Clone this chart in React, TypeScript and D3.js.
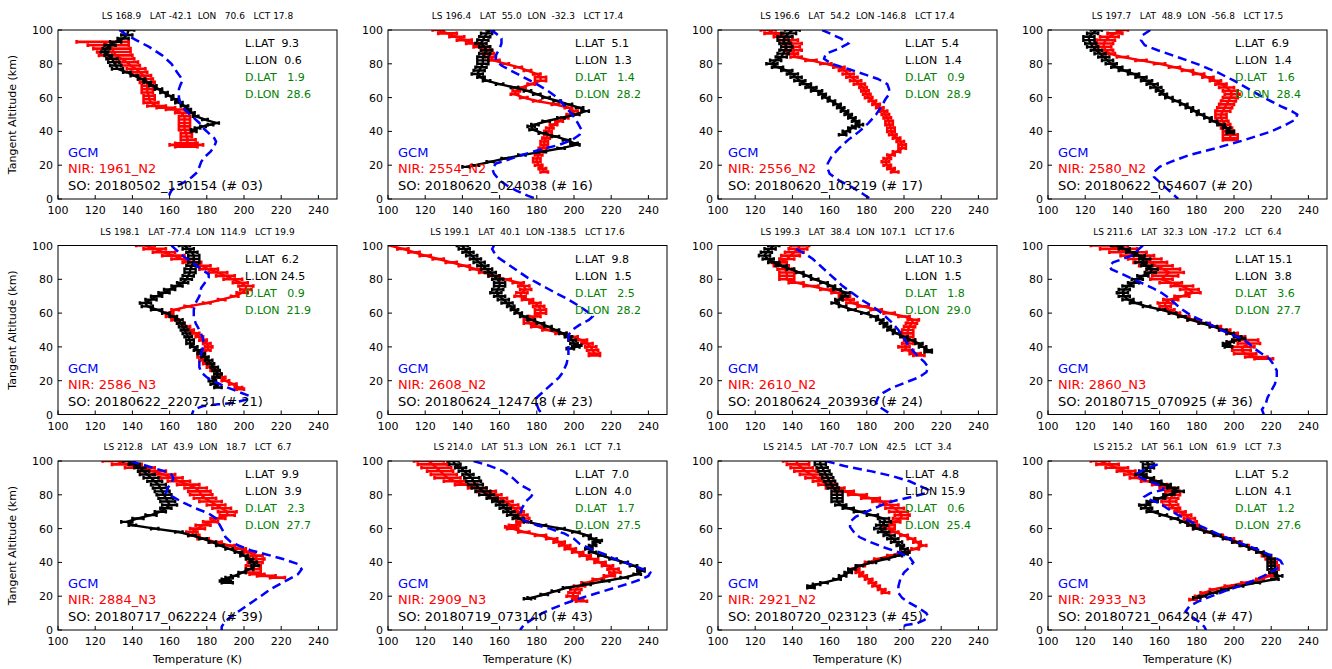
import React from 'react';
import * as d3 from 'd3';

type P3 = [number, number, number]; // [altitude km, temperature K, error K]
type P2 = [number, number]; // [altitude km, temperature K]

// ---------- Panel #03 ----------
const so03: P3[] = [[100,138,3],[97,137,3],[95,135,3],[93,131,3],[91,128,3],[89,126,2],[87,125,2],[85,127,2],[83,129,3],[81,130,3],[79,131,3],[77,132,3],[75,137,2],[73,141,2],[71,145,2],[69,148,2],[67,151,2],[65,154,2],[63,157,2],[61,160,2],[59,163,2],[57,165,2],[55,168,2],[53,170,1.5],[51,172,1.5],[49,174,1.5],[47,179,1.5],[45,185,1.5],[44,182,1.5],[43,178,1.5],[42,175,1.5],[41,173,1.5],[40,173,1.5]];
const nir03: P3[] = [[93,124,14],[91,127,11],[89,129,10],[87,130,9],[85,131,9],[83,134,7],[81,137,6],[79,139,5],[77,142,5],[75,144,4],[73,146,4],[71,147,4],[69,148,4],[67,148,3],[65,148,3],[63,148,3],[61,149,3],[59,149,3],[57,150,4],[55,153,5],[54,158,5],[53,163,5],[51,166,3],[49,168,3],[47,168,3],[45,168,3],[43,168,3],[41,168,3],[39,169,3],[37,169,3],[35,170,4],[33,169,6],[32,169,9],[31,169,6]];
const gcm03: P2[] = [[100,133],[97,137],[94,142],[90,149],[85,156],[80,161],[75,164],[72,166],[70,167],[68,166],[65,165],[60,165],[56,166],[52,169],[48,173],[45,176],[42,178],[39,181],[36,184],[34,185],[31,184],[28,182],[25,179],[22,177],[19,176],[16,175],[13,172],[10,168],[8,164],[5,161],[3,160],[0,160]];

// ---------- Panel #16 ----------
const so16: P3[] = [[100,155,2],[98,153,3],[96,152,3],[94,151,3],[92,150,3],[90,152,3],[88,153,3],[86,152,3],[84,151,3],[82,151,3],[80,151,3],[78,150,3],[76,149,3],[74,148,3],[72,150,2],[70,153,2],[68,160,2],[66,168,2],[64,175,2],[62,180,2],[60,185,2],[58,191,2],[56,197,2],[54,203,2],[52,206,2],[50,201,2],[48,193,2],[46,185,2],[44,179,2],[43,177,2],[41,178,2],[39,183,2],[37,190,2],[35,196,2],[33,200,2],[32,201,2],[30,193,2],[28,183,2],[26,172,2],[24,163,2],[22,155,2],[20,147,2],[19,142,2]];
const nir16: P3[] = [[100,127,3],[98,132,5],[96,137,4],[94,141,4],[92,146,4],[90,150,4],[88,153,3],[86,154,3],[84,155,3],[82,157,3],[80,163,2],[78,170,2],[76,175,2],[74,180,2],[72,182,3],[70,182,3],[68,177,2],[66,172,2],[64,169,2],[62,168,2],[60,173,2],[58,180,2],[56,190,2],[54,197,2],[52,200,2],[50,198,2],[48,195,2],[46,192,2],[44,189,2],[42,187,2],[40,186,2],[38,186,2],[36,185,2],[34,184,2],[32,184,2],[30,183,2],[28,182,2],[26,181,2],[24,180,2],[22,180,2],[20,181,2],[18,183,2],[16,184,2]];
const gcm16: P2[] = [[100,155],[98,158],[95,161],[92,161],[89,160],[85,158],[82,158],[79,161],[76,166],[72,173],[68,180],[64,186],[60,191],[55,195],[50,199],[45,202],[41,204],[38,203],[35,199],[32,192],[29,181],[26,172],[23,164],[21,158],[18,156],[15,157],[11,160],[8,164],[5,169],[2,175],[0,180]];

// ---------- Panel #17 ----------
const so17: P3[] = [[100,140,4],[98,138,4],[96,136,4],[94,135,3],[92,136,3],[90,137,3],[88,136,3],[86,135,3],[84,134,3],[82,131,3],[80,129,3],[78,132,3],[76,137,3],[74,140,3],[72,142,3],[70,144,3],[68,147,3],[66,150,3],[64,153,3],[62,156,2],[60,158,2],[58,161,2],[56,164,2],[54,166,2],[52,168,2],[50,170,2],[48,172,2],[46,174,2],[44,176,2],[43,174,2],[42,172,2],[40,169,2],[38,167,2]];
const nir17: P3[] = [[100,127,4],[98,130,5],[96,135,5],[94,138,5],[92,140,5],[90,140,4],[88,141,4],[86,140,3],[84,142,3],[82,150,3],[80,158,3],[78,165,3],[76,168,3],[74,170,3],[72,172,3],[70,174,3],[68,176,3],[66,178,2],[64,179,2],[62,180,2],[60,181,2],[58,183,2],[56,185,2],[54,187,2],[52,189,2],[50,190,2],[48,191,2],[46,192,2],[44,192,2],[42,193,2],[40,193,2],[38,194,2],[36,196,2],[34,198,2],[32,199,2],[30,199,2],[28,196,2],[26,193,2],[24,191,2],[22,190,2],[20,191,2],[18,193,2],[16,195,2]];
const gcm17: P2[] = [[100,156],[97,162],[95,166],[92,170],[89,165],[86,158],[83,157],[80,161],[77,170],[74,178],[71,186],[68,191],[65,192],[62,192],[59,190],[55,188],[50,185],[45,181],[40,176],[35,170],[30,165],[25,161],[21,159],[18,159],[15,160],[11,165],[7,172],[3,178],[0,182]];

// ---------- Panel #20 ----------
const so20: P3[] = [[100,126,3],[98,124,3],[96,122,3],[94,122,3],[92,123,3],[90,124,3],[88,126,3],[86,128,3],[84,130,3],[82,132,3],[80,134,3],[78,137,3],[76,141,3],[74,146,3],[72,150,3],[70,153,3],[68,156,3],[66,158,3],[64,160,2],[62,162,2],[60,165,2],[58,169,2],[56,173,2],[54,176,2],[52,179,2],[50,182,2],[48,186,2],[46,189,2],[44,193,2],[42,196,2],[40,198,2],[39,198,2]];
const nir20: P3[] = [[100,140,3],[98,136,4],[96,133,5],[94,131,5],[92,130,5],[90,130,4],[88,131,4],[86,133,3],[84,140,3],[82,150,3],[80,160,3],[78,168,3],[76,175,3],[74,181,3],[72,186,3],[70,190,3],[68,193,3],[66,196,4],[64,198,4],[62,199,4],[60,198,4],[58,197,4],[56,196,4],[54,195,4],[52,194,4],[50,193,3],[48,193,3],[46,194,3],[44,195,3],[42,196,3],[40,197,3],[38,198,4],[36,198,4],[35,198,4]];
const gcm20: P2[] = [[100,155],[97,151],[94,150],[91,152],[88,159],[85,167],[80,180],[75,191],[70,200],[65,208],[60,216],[55,225],[52,231],[50,234],[47,233],[44,228],[40,220],[35,206],[30,190],[26,176],[22,166],[19,160],[16,157],[13,157],[10,160],[6,164],[3,167],[0,170]];

// ---------- Panel #21 ----------
const so21: P3[] = [[100,168,3],[98,170,3],[96,172,3],[94,173,3],[92,173,3],[90,173,3],[88,172,3],[86,171,3],[84,171,3],[82,170,3],[80,169,3],[78,167,3],[76,164,3],[74,160,3],[72,157,3],[70,153,3],[68,150,3],[66,147,3],[64,148,3],[62,153,3],[60,158,2],[58,162,2],[56,165,2],[54,166,2],[52,167,2],[50,168,2],[48,169,2],[46,170,2],[44,171,2],[42,171,2],[40,173,2],[38,175,2],[36,177,2],[34,179,2],[32,181,2],[30,182,2],[28,184,2],[26,185,2],[24,186,2],[22,185,2],[20,183,2],[18,184,2],[16,186,2]];
const nir21: P3[] = [[100,147,5],[98,152,6],[96,157,6],[94,162,6],[92,167,6],[90,172,5],[88,177,5],[86,181,5],[84,186,5],[82,190,5],[80,194,5],[78,198,4],[76,201,4],[74,201,3],[72,199,3],[70,195,2],[68,188,2],[66,180,2],[64,170,2],[62,163,2],[60,160,2],[58,160,2],[56,163,2],[54,166,2],[52,169,2],[50,171,2],[48,174,2],[46,176,2],[44,178,2],[42,180,2],[40,181,2],[38,180,2],[36,177,2],[34,177,2],[32,178,2],[30,180,2],[28,182,2],[26,184,2],[24,186,2],[22,188,2],[20,190,2],[18,194,2],[16,197,2],[15,198,2]];
const gcm21: P2[] = [[100,161],[97,164],[94,167],[90,172],[86,177],[83,181],[81,181],[78,179],[75,177],[70,176],[66,174],[62,173],[58,173],[54,174],[50,176],[45,178],[40,178],[36,177],[32,176],[28,176],[25,177],[22,180],[19,185],[16,191],[13,198],[11,203],[9,202],[7,195],[6,186],[5,178],[3,173],[0,172]];

// ---------- Panel #23 ----------
const so23: P3[] = [[100,140,3],[98,141,3],[96,143,3],[94,145,3],[92,147,3],[90,149,3],[88,151,3],[86,153,3],[84,155,3],[82,157,3],[80,159,3],[78,160,3],[76,160,3],[74,159,3],[72,158,3],[70,160,3],[68,162,3],[66,164,3],[64,166,2],[62,168,2],[60,170,2],[58,173,2],[56,177,2],[54,182,2],[52,186,2],[50,190,2],[48,194,2],[46,197,2],[44,199,2],[42,200,2],[41,202,2],[40,201,2],[39,198,2]];
const nir23: P3[] = [[100,101,3],[98,108,3],[96,114,3],[94,120,3],[92,127,3],[90,134,3],[88,141,3],[86,147,3],[84,152,3],[82,157,3],[80,163,3],[78,170,3],[76,173,3],[74,174,3],[72,172,3],[70,171,3],[68,175,3],[66,179,3],[64,181,3],[62,182,3],[60,182,3],[58,179,3],[56,176,3],[54,176,3],[52,180,3],[50,186,3],[48,193,3],[46,199,3],[44,204,3],[42,207,3],[40,209,3],[38,210,3],[36,211,3],[35,211,3]];
const gcm23: P2[] = [[100,157],[98,156],[96,157],[93,159],[90,163],[87,167],[84,171],[81,175],[78,180],[75,185],[72,190],[68,197],[64,203],[61,207],[58,210],[56,208],[53,203],[50,199],[47,197],[43,197],[39,197],[35,197],[30,196],[25,194],[22,192],[18,188],[14,184],[10,180],[6,180],[3,181],[0,183]];

// ---------- Panel #24 ----------
const so24: P3[] = [[100,130,3],[98,128,3],[96,126,3],[94,125,3],[92,127,3],[90,130,3],[88,134,3],[86,139,2],[84,144,2],[82,148,2],[80,152,2],[78,157,2],[76,161,2],[74,164,2],[72,169,2],[70,168,2],[68,165,2],[66,163,2],[64,167,2],[62,172,2],[60,179,2],[58,184,2],[56,187,2],[54,189,2],[52,191,2],[50,193,2],[48,196,2],[46,200,2],[44,204,2],[42,208,2],[40,210,2],[38,213,2],[37,213,2]];
const nir24: P3[] = [[100,144,5],[98,143,5],[96,141,5],[94,139,5],[92,137,4],[90,133,4],[88,134,4],[86,136,4],[84,137,4],[82,137,4],[80,137,4],[78,142,4],[76,150,4],[74,158,3],[72,164,3],[70,168,3],[68,170,3],[66,172,3],[64,178,3],[62,185,3],[60,192,3],[58,200,3],[56,205,3],[54,204,3],[52,203,3],[50,202,3],[48,202,3],[46,202,3],[44,203,3],[42,202,3],[40,200,3],[38,202,3],[36,206,3],[35,208,3]];
const gcm24: P2[] = [[98,142],[95,147],[92,151],[88,155],[84,159],[80,163],[76,167],[72,172],[68,177],[64,183],[60,188],[55,193],[50,197],[45,200],[40,203],[35,207],[31,211],[28,213],[25,212],[22,208],[19,201],[16,194],[13,189],[10,186],[7,185],[5,186],[3,189],[0,193]];

// ---------- Panel #36 ----------
const so36: P3[] = [[100,137,3],[98,141,3],[96,145,3],[94,149,3],[92,152,3],[90,150,3],[88,153,3],[86,156,3],[84,155,3],[82,151,3],[80,148,3],[78,146,3],[76,143,3],[74,141,3],[72,140,3],[70,141,3],[68,143,3],[66,147,3],[64,153,2],[62,161,2],[60,167,2],[58,172,2],[56,177,2],[54,183,2],[52,189,2],[50,194,2],[48,198,2],[46,202,2],[45,204,2],[44,201,2],[43,198,2],[42,196,2],[41,196,2],[40,197,2]];
const nir36: P3[] = [[100,133,10],[98,138,10],[96,143,10],[94,148,9],[92,152,9],[90,155,9],[88,158,9],[86,162,9],[84,165,8],[82,163,7],[80,161,6],[78,166,6],[76,172,6],[74,176,5],[72,178,4],[70,172,4],[68,166,4],[66,163,4],[64,163,3],[62,165,3],[60,168,3],[58,173,3],[56,178,3],[54,184,3],[52,190,3],[50,195,3],[48,199,3],[46,203,3],[44,207,6],[42,208,6],[40,205,6],[38,204,5],[36,206,6],[34,212,6],[33,216,5]];
const gcm36: P2[] = [[100,151],[98,149],[96,147],[94,145],[92,140],[90,135],[88,133],[86,134],[84,138],[81,144],[78,150],[75,156],[72,161],[69,165],[66,168],[63,171],[60,175],[57,180],[54,186],[51,191],[48,197],[45,204],[42,208],[39,211],[36,215],[33,219],[30,221],[26,223],[22,223],[18,222],[14,220],[10,218],[6,217],[3,215],[0,216]];

// ---------- Panel #39 ----------
const so39: P3[] = [[100,138,3],[98,141,3],[96,144,3],[94,146,3],[92,148,4],[90,150,4],[88,152,4],[86,154,4],[84,155,4],[82,156,4],[80,157,4],[78,158,4],[76,159,4],[74,160,4],[72,158,3],[70,155,3],[68,150,3],[66,143,3],[64,137,3],[62,140,2],[60,152,2],[58,165,2],[56,172,2],[54,178,2],[52,183,2],[50,187,2],[48,192,2],[46,197,2],[44,200,2],[42,203,2],[40,205,2],[38,206,2],[36,203,2],[34,199,2],[32,195,2],[31,192,2],[30,190,2],[29,190,3],[28,191,3]];
const nir39: P3[] = [[100,132,8],[98,137,8],[96,144,8],[94,151,7],[92,157,6],[90,161,6],[88,165,6],[86,170,6],[84,174,6],[82,176,6],[80,177,6],[78,179,6],[76,182,6],[74,185,5],[72,188,5],[70,191,5],[68,191,4],[66,186,4],[64,182,4],[62,178,4],[60,175,4],[58,172,3],[56,173,3],[54,178,3],[52,185,3],[50,192,3],[48,198,3],[46,203,3],[44,206,4],[42,207,4],[40,206,4],[38,205,4],[36,205,4],[34,205,4],[33,207,4],[32,212,5],[31,218,4]];
const gcm39: P2[] = [[100,139],[98,145],[96,151],[94,157],[92,161],[90,162],[87,161],[84,159],[81,158],[78,163],[75,168],[72,174],[69,181],[66,185],[62,187],[58,189],[55,190],[52,193],[50,197],[47,204],[45,211],[42,221],[39,229],[36,231],[33,229],[30,224],[27,219],[24,214],[20,209],[17,205],[14,201],[11,197],[8,193],[5,190],[2,188],[0,188]];

// ---------- Panel #43 ----------
const so43: P3[] = [[100,135,3],[98,136,3],[96,139,3],[94,141,3],[92,143,3],[90,145,4],[88,146,4],[86,147,4],[84,149,4],[82,151,4],[80,153,4],[78,156,3],[76,159,3],[74,161,3],[72,163,3],[70,165,3],[68,167,3],[66,170,3],[64,175,2],[62,183,2],[60,193,2],[58,201,2],[56,207,2],[54,210,2],[53,213,2],[52,212,2],[50,210,2],[48,208,2],[46,210,2],[44,215,2],[42,221,2],[40,227,2],[38,232,2],[36,236,2],[35,236,2],[33,234,2],[31,227,2],[29,217,2],[27,207,2],[25,196,2],[23,190,2],[21,184,2],[19,177,2],[18.5,175,2]];
const nir43: P3[] = [[100,122,8],[98,124,8],[96,126,8],[94,128,7],[92,130,7],[90,132,7],[88,136,6],[86,142,6],[84,148,5],[82,153,5],[80,157,4],[78,160,4],[76,163,4],[74,166,4],[72,168,3],[70,170,3],[68,172,3],[66,173,3],[64,172,3],[62,168,3],[61,166,3],[60,167,3],[58,173,3],[56,182,3],[54,188,3],[52,192,3],[50,195,3],[48,198,3],[46,202,3],[44,206,3],[42,210,3],[40,214,3],[38,218,3],[36,221,3],[34,222,3],[32,219,3],[30,213,3],[28,207,3],[26,203,3],[24,201,3],[22,200,3],[20,199,3],[18,202,3],[17,204,3]];
const gcm43: P2[] = [[100,146],[97,155],[94,162],[90,167],[86,171],[83,176],[81,178],[79,177],[76,174],[72,172],[68,171],[65,173],[62,180],[60,187],[57,195],[54,200],[51,203],[48,209],[45,216],[42,222],[39,230],[36,237],[34,241],[32,240],[30,236],[28,231],[25,222],[22,213],[19,204],[16,196],[13,189],[10,183],[6,177],[3,173],[0,171]];

// ---------- Panel #45 ----------
const so45: P3[] = [[100,155,3],[98,155,3],[96,156,3],[94,157,3],[92,158,3],[90,159,3],[88,160,3],[86,161,3],[84,162,3],[82,164,3],[80,164,3],[78,164,3],[76,164,3],[74,166,3],[72,170,3],[70,176,3],[68,183,3],[66,189,3],[64,190,3],[62,188,3],[60,187,3],[58,189,3],[56,192,3],[54,194,3],[52,196,3],[50,198,2],[48,200,2],[46,201,2],[45,200,2],[44,197,2],[42,190,2],[40,183,2],[38,176,2],[36,172,2],[34,170,2],[32,167,2],[30,164,2],[28,157,2],[27,153,2],[26,150,2],[25,150,2]];
const nir45: P3[] = [[100,142,7],[98,143,6],[96,145,6],[94,147,6],[92,150,6],[90,153,6],[88,156,5],[86,159,5],[84,163,5],[82,168,5],[80,175,5],[78,182,5],[76,188,5],[74,192,5],[72,195,5],[70,197,5],[68,199,4],[66,198,4],[64,195,3],[62,192,3],[60,192,3],[58,195,2],[56,200,2],[54,204,2],[52,207,2],[50,210,2],[48,206,2],[46,200,2],[44,193,2],[42,186,2],[40,181,2],[38,177,2],[36,174,2],[34,176,2],[32,178,2],[30,181,2],[28,183,2],[26,185,2],[24,188,2],[22,190,2]];
const gcm45: P2[] = [[100,158],[97,168],[94,182],[91,194],[88,203],[85,209],[83,213],[81,212],[79,205],[77,197],[75,190],[72,184],[70,180],[67,174],[64,171],[61,171],[58,173],[55,176],[52,182],[49,189],[46,197],[43,203],[40,205],[37,203],[34,200],[30,198],[26,197],[22,197],[19,199],[16,203],[13,208],[10,212],[8,213],[6,211],[4,207],[3,201],[1,198],[0,198]];

// ---------- Panel #47 ----------
const so47: P3[] = [[100,153,3],[98,154,3],[96,154,3],[94,152,3],[92,150,3],[90,154,3],[88,158,3],[86,163,3],[84,167,3],[82,170,3],[80,165,3],[78,160,3],[76,156,3],[74,152,3],[72,153,3],[70,156,3],[68,162,2],[66,168,2],[64,173,2],[62,177,2],[60,180,2],[58,186,2],[56,191,2],[54,196,2],[52,201,2],[50,205,2],[48,210,2],[46,214,2],[44,218,2],[42,220,2],[40,220,2],[38,220,2],[36,220,2],[34,221,2],[32,224,2],[30,222,2],[28,212,2],[26,203,2],[24,195,2],[22,189,2],[20,183,2],[19,180,2]];
const nir47: P3[] = [[100,128,5],[98,132,6],[96,137,6],[94,142,5],[92,146,5],[90,148,4],[88,154,4],[86,160,4],[84,164,4],[82,167,4],[80,167,4],[78,166,4],[76,165,4],[74,166,4],[72,168,3],[70,171,3],[68,174,3],[66,176,3],[64,177,3],[62,178,3],[60,181,3],[58,186,2],[56,192,2],[54,198,2],[52,202,2],[50,206,2],[48,210,2],[46,214,2],[44,217,2],[42,219,2],[40,221,2],[38,222,2],[36,222,2],[34,221,2],[32,219,2],[30,214,2],[28,206,2],[26,197,2],[24,189,2],[22,184,2],[20,181,2],[18,178,2]];
const gcm47: P2[] = [[98,159],[96,154],[94,150],[92,147],[90,150],[88,154],[85,162],[83,162],[81,155],[79,152],[77,155],[75,160],[72,164],[68,170],[64,177],[60,185],[56,193],[52,202],[48,212],[44,220],[41,225],[39,226],[37,224],[35,221],[32,216],[29,210],[26,203],[23,195],[20,188],[17,181],[14,176],[11,174],[8,177],[5,181],[2,184],[0,185]];

// ---------- Labels ----------
const lsValues = ['168.9','196.4','196.6','197.7','198.1','199.1','199.3','211.6','212.8','214.0','214.5','215.2'];
const latValues = ['-42.1','55.0','54.2','48.9','-77.4','40.1','38.4','32.3','43.9','51.3','-70.7','56.1'];
const lonValues = ['70.6','-32.3','-146.8','-56.8','114.9','-138.5','107.1','-17.2','18.7','26.1','42.5','61.9'];
const lctValues = ['17.8','17.4','17.4','17.5','19.9','17.6','17.6','6.4','6.7','7.1','3.4','7.3'];
const lLatValues = ['9.3','5.1','5.4','6.9','6.2','9.8','10.3','15.1','9.9','7.0','4.8','5.2'];
const lLonValues = ['0.6','1.3','1.4','1.4','24.5','1.5','1.5','3.8','3.9','4.0','15.9','4.1'];
const dLatValues = ['1.9','1.4','0.9','1.6','0.9','2.5','1.8','3.6','2.3','1.7','0.6','1.2'];
const dLonValues = ['28.6','28.2','28.9','28.4','21.9','28.2','29.0','27.7','27.7','27.5','25.4','27.6'];
const nirLabels = ['1961_N2','2554_N2','2556_N2','2580_N2','2586_N3','2608_N2','2610_N2','2860_N3','2884_N3','2909_N3','2921_N2','2933_N3'];
const soLabels = ['20180502_130154 (# 03)','20180620_024038 (# 16)','20180620_103219 (# 17)','20180622_054607 (# 20)','20180622_220731 (# 21)','20180624_124748 (# 23)','20180624_203936 (# 24)','20180715_070925 (# 36)','20180717_062224 (# 39)','20180719_073140 (# 43)','20180720_023123 (# 45)','20180721_064204 (# 47)'];

const xTicks = [100,120,140,160,180,200,220,240];
const yTicks = [0,20,40,60,80,100];

const soSeries = [so03,so16,so17,so20,so21,so23,so24,so36,so39,so43,so45,so47];
const nirSeries = [nir03,nir16,nir17,nir20,nir21,nir23,nir24,nir36,nir39,nir43,nir45,nir47];
const gcmSeries = [gcm03,gcm16,gcm17,gcm20,gcm21,gcm23,gcm24,gcm36,gcm39,gcm43,gcm45,gcm47];

const FONT = 'DejaVu Sans, sans-serif';
const PW = 279;
const PH = 169;
const LEFT0 = 58;
const COLSTEP = 330;
const TOP0 = 30;
const ROWSTEP = 215.5;

const NB = '\u00A0';
const pad = (s: string, n: number) => s.padStart(n, ' ');
const keepSpaces = (s: string) => s.replace(/ /g, NB);

export default function App() {
  const x = d3.scaleLinear().domain([100, 250]).range([0, PW]);
  const y = d3.scaleLinear().domain([0, 100]).range([PH, 0]);
  const line3 = d3.line<P3>().x(d => x(d[1])).y(d => y(d[0]));
  const line2 = d3.line<P2>().x(d => x(d[1])).y(d => y(d[0]));

  const errPath = (data: P3[]) => {
    const p = d3.path();
    data.forEach(([a, t, e]) => {
      const yy = y(a);
      const x1 = x(t - e);
      const x2 = x(t + e);
      p.moveTo(x1, yy);
      p.lineTo(x2, yy);
      p.moveTo(x1, yy - 1.8);
      p.lineTo(x1, yy + 1.8);
      p.moveTo(x2, yy - 1.8);
      p.lineTo(x2, yy + 1.8);
    });
    return p.toString();
  };

  const panels = soSeries.map((so, i) => {
    const col = i % 4;
    const row = Math.floor(i / 4);
    const left = LEFT0 + col * COLSTEP;
    const top = TOP0 + row * ROWSTEP;
    const title = keepSpaces(`LS ${lsValues[i]}   LAT ${pad(latValues[i], 5)}  LON ${pad(lonValues[i], 6)}   LCT ${pad(lctValues[i], 4)}`);
    const clipId = `clip${i}`;
    return (
      <g key={i} transform={`translate(${left},${top})`}>
        <defs>
          <clipPath id={clipId}>
            <rect x={0} y={0} width={PW} height={PH} />
          </clipPath>
        </defs>
        <text x={PW / 2} y={-11} textAnchor="middle" fontSize={9} fontFamily={FONT}>{title}</text>
        <g clipPath={`url(#${clipId})`}>
          <path d={errPath(nirSeries[i])} stroke="#ff0000" strokeWidth={2.6} fill="none" />
          <path d={line3(nirSeries[i]) || ''} stroke="#ff0000" strokeWidth={2.4} fill="none" />
          <path d={errPath(so)} stroke="#000000" strokeWidth={2.4} fill="none" />
          <path d={line3(so) || ''} stroke="#000000" strokeWidth={2.4} fill="none" />
          <path d={line2(gcmSeries[i]) || ''} stroke="#0000ff" strokeWidth={2.5} fill="none" strokeDasharray="9,5" />
        </g>
        <rect x={0} y={0} width={PW} height={PH} fill="none" stroke="#000" strokeWidth={1} />
        {xTicks.map(t => (
          <g key={`x${t}`}>
            <line x1={x(t)} x2={x(t)} y1={PH} y2={PH - 4} stroke="#000" strokeWidth={1} />
            <text x={x(t)} y={PH + 15} textAnchor="middle" fontSize={11} fontFamily={FONT}>{t}</text>
          </g>
        ))}
        {yTicks.map(t => (
          <g key={`y${t}`}>
            <line x1={0} x2={4} y1={y(t)} y2={y(t)} stroke="#000" strokeWidth={1} />
            <text x={-5} y={y(t) + 4} textAnchor="end" fontSize={11} fontFamily={FONT}>{t}</text>
          </g>
        ))}
        <g fontFamily={FONT} fontSize={11}>
          <text x={187} y={17} fill="#000">{keepSpaces(`L.LAT ${pad(lLatValues[i], 4)}`)}</text>
          <text x={187} y={34} fill="#000">{keepSpaces(`L.LON ${pad(lLonValues[i], 4)}`)}</text>
          <text x={187} y={51} fill="#008000">{keepSpaces(`D.LAT ${pad(dLatValues[i], 5)}`)}</text>
          <text x={187} y={68} fill="#008000">{keepSpaces(`D.LON ${pad(dLonValues[i], 5)}`)}</text>
        </g>
        <g fontFamily={FONT} fontSize={13}>
          <text x={10} y={127} fill="#0000ff">GCM</text>
          <text x={10} y={143} fill="#ff0000">{`NIR: ${nirLabels[i]}`}</text>
          <text x={10} y={160} fill="#000">{`SO: ${soLabels[i]}`}</text>
        </g>
        {col === 0 && (
          <text transform={`translate(-42,${PH / 2}) rotate(-90)`} textAnchor="middle" fontSize={11} fontFamily={FONT}>Tangent Altitude (km)</text>
        )}
        {row === 2 && (
          <text x={PW / 2} y={PH + 33} textAnchor="middle" fontSize={11} fontFamily={FONT}>Temperature (K)</text>
        )}
      </g>
    );
  });

  return (
    <svg width={1332} height={669} style={{ position: 'absolute', left: 0, top: 0, background: '#fff' }}>
      <rect width={1332} height={669} fill="#fff" />
      {panels}
    </svg>
  );
}
